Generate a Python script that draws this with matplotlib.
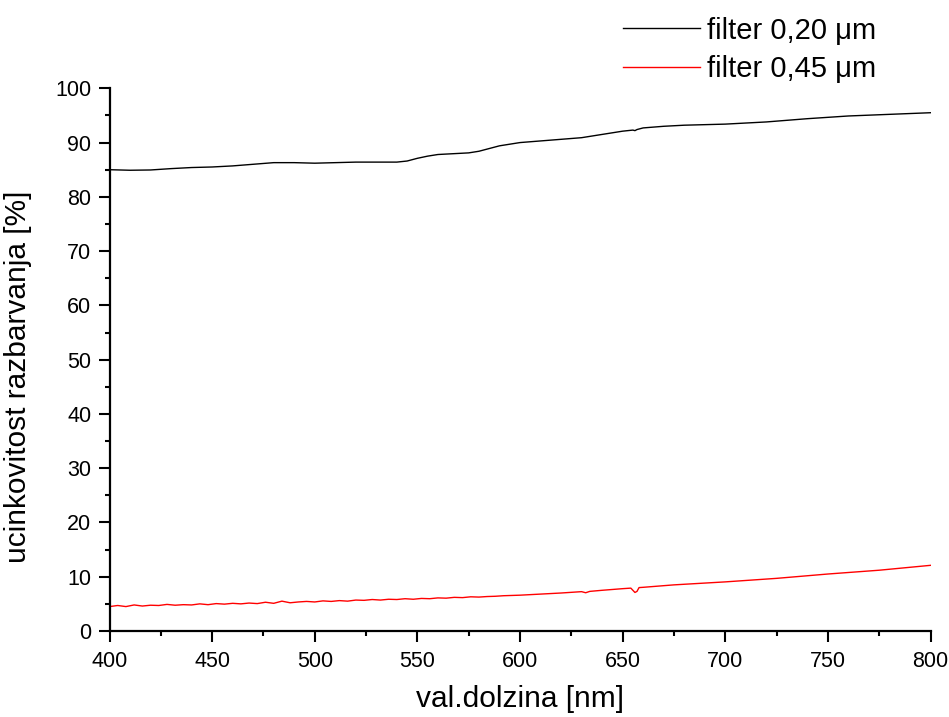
import numpy as np
import matplotlib.pyplot as plt
from matplotlib.ticker import MultipleLocator

plt.rcParams['font.family'] = ['Liberation Sans', 'DejaVu Sans']

# filter 0,20 um
wl_020 = [400, 410, 420, 430, 440, 450, 460, 470, 480, 490, 500, 510, 520, 530,
          540, 545, 550, 555, 560, 570, 575, 580, 590, 600, 610, 620, 630, 640,
          650, 655, 656, 657, 660, 670, 680, 700, 720, 740, 760, 780, 800]
eff_020 = [85.0, 84.9, 84.95, 85.2, 85.4, 85.5, 85.7, 86.0, 86.3, 86.3, 86.2, 86.3,
           86.4, 86.4, 86.4, 86.6, 87.1, 87.5, 87.8, 88.0, 88.1, 88.4, 89.4, 90.0,
           90.3, 90.6, 90.9, 91.5, 92.1, 92.3, 92.2, 92.4, 92.7, 93.0, 93.2, 93.4,
           93.8, 94.4, 94.9, 95.2, 95.5]

# filter 0,45 um (noisy below ~600 nm)
wl_045 = [400, 404, 408, 412, 416, 420, 424, 428, 432, 436, 440, 444, 448, 452,
          456, 460, 464, 468, 472, 476, 480, 484, 488, 492, 496, 500, 504, 508,
          512, 516, 520, 524, 528, 532, 536, 540, 544, 548, 552, 556, 560, 564,
          568, 572, 576, 580, 584, 588, 592, 596, 600, 610, 620, 630, 632, 634,
          640, 650, 654, 656, 657, 658, 660, 675, 700, 725, 750, 775, 800]
eff_045 = [4.5, 4.7, 4.5, 4.8, 4.6, 4.75, 4.7, 4.9, 4.75, 4.85, 4.8, 5.0, 4.85, 5.05,
           4.95, 5.1, 5.0, 5.15, 5.05, 5.3, 5.1, 5.5, 5.2, 5.35, 5.45, 5.35, 5.55,
           5.45, 5.6, 5.5, 5.7, 5.65, 5.8, 5.7, 5.85, 5.8, 5.95, 5.85, 6.0, 5.95,
           6.1, 6.05, 6.2, 6.15, 6.3, 6.25, 6.35, 6.4, 6.5, 6.55, 6.6, 6.8, 7.0,
           7.25, 7.05, 7.3, 7.5, 7.8, 7.9, 7.1, 7.3, 8.0, 8.05, 8.5, 9.05, 9.7,
           10.5, 11.2, 12.1]

fig = plt.figure(figsize=(9.49, 7.17), dpi=100)
ax = fig.add_axes([109.5 / 949, 1 - 631 / 717, 821 / 949, 542.7 / 717])

ax.plot(wl_020, eff_020, color='black', linewidth=1.0, label='filter 0,20 \u03bcm')
ax.plot(wl_045, eff_045, color='red', linewidth=1.0, label='filter 0,45 \u03bcm')

ax.set_xlim(400, 800)
ax.set_ylim(0, 100)
ax.xaxis.set_major_locator(MultipleLocator(50))
ax.xaxis.set_minor_locator(MultipleLocator(25))
ax.yaxis.set_major_locator(MultipleLocator(10))
ax.yaxis.set_minor_locator(MultipleLocator(5))

for s in ['top', 'right']:
    ax.spines[s].set_visible(False)
for s in ['left', 'bottom']:
    ax.spines[s].set_linewidth(1.6)

ax.tick_params(which='major', direction='out', length=8, width=1.5, labelsize=15.5)
ax.tick_params(axis='x', which='major', pad=6.5)
ax.tick_params(axis='y', which='major', pad=5)
ax.tick_params(which='minor', direction='out', length=3.8, width=1.5)

ax.set_xlabel('val.dolzina [nm]', fontsize=21.5, labelpad=9)
ax.set_ylabel('ucinkovitost razbarvanja [%]', fontsize=21.5)
ax.yaxis.set_label_coords(-77 / 821, 0.469)

ax.legend(loc='upper left', bbox_to_anchor=(608 / 949, 1 - 2 / 717),
          bbox_transform=fig.transFigure, frameon=False, fontsize=21,
          handlelength=2.64, handletextpad=0.24, labelspacing=0.36, borderpad=0)

fig.savefig('out.png', dpi=100)
